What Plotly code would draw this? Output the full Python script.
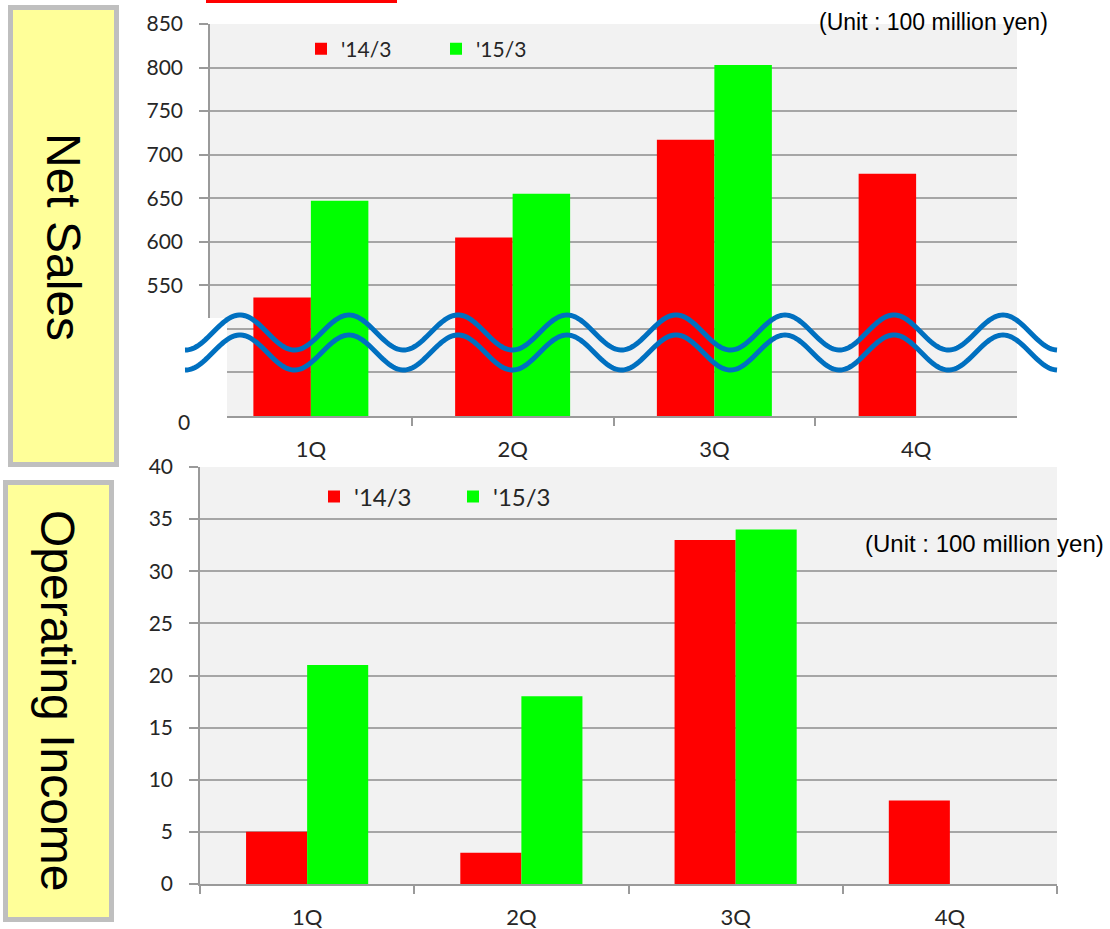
import numpy as np
import plotly.graph_objects as go

W, H = 1110, 929

# ---- data -------------------------------------------------------------
quarters = ["1Q", "2Q", "3Q", "4Q"]
series_names = ["'14/3", "'15/3"]

net_sales_14 = [536, 605, 717, 678]
net_sales_15 = [647, 655, 803, None]

op_income_14 = [5, 3, 33, 8]
op_income_15 = [21, 18, 34, None]

sales_tickvals = [400, 450, 500, 550, 600, 650, 700, 750, 800, 850]
sales_ticktext = ["", "", "", "550", "600", "650", "700", "750", "800", "850"]
income_tickvals = [0, 5, 10, 15, 20, 25, 30, 35, 40]

unit_label = "(Unit : 100 million yen)"

RED = "#FF0000"
GREEN = "#00FF00"
GRID = "#A6A6A6"
AXIS = "#9A9A9A"
TICKFONT = dict(family="Lato", size=21, color="#262626")
CATFONT = dict(family="Lato", size=22, color="#262626")


def fx(px):
    return px / W


def fy(py):
    return 1 - py / H


fig = go.Figure()

# Net sales (upper panel)
fig.add_trace(go.Bar(x=quarters, y=net_sales_14, name=series_names[0],
                     marker=dict(color=RED, line=dict(width=0)),
                     xaxis="x", yaxis="y", legend="legend"))
fig.add_trace(go.Bar(x=quarters, y=net_sales_15, name=series_names[1],
                     marker=dict(color=GREEN, line=dict(width=0)),
                     xaxis="x", yaxis="y", legend="legend"))

# Operating income (lower panel)
fig.add_trace(go.Bar(x=quarters, y=op_income_14, name=series_names[0],
                     marker=dict(color=RED, line=dict(width=0)),
                     xaxis="x2", yaxis="y2", legend="legend2"))
fig.add_trace(go.Bar(x=quarters, y=op_income_15, name=series_names[1],
                     marker=dict(color=GREEN, line=dict(width=0)),
                     xaxis="x2", yaxis="y2", legend="legend2"))

xcommon = dict(type="category", showline=True, linecolor=AXIS, linewidth=1.5,
               ticks="outside", tickson="boundaries", ticklen=8, tickcolor=AXIS,
               tickwidth=1.5, showgrid=False, tickfont=CATFONT,
               ticklabelstandoff=13, fixedrange=True, automargin=False)
ycommon = dict(showline=True, linecolor=AXIS, linewidth=1.5, ticks="outside",
               ticklen=9, tickcolor=AXIS, tickwidth=1.5, showgrid=True,
               gridcolor=GRID, gridwidth=1.5, zeroline=False, tickfont=TICKFONT,
               ticklabelstandoff=12, fixedrange=True, automargin=False)

# ---- decorations ------------------------------------------------------
shapes = []

# red tab peeking in at the top edge
shapes.append(dict(type="rect", xref="paper", yref="paper",
                   x0=fx(206), x1=fx(397), y0=fy(-10), y1=fy(3),
                   fillcolor=RED, line=dict(width=0), layer="above"))

# yellow side label boxes
for (x0, x1, y0, y1) in [(10.5, 116.5, 7.5, 464.5), (5.5, 111.5, 482.5, 919.5)]:
    shapes.append(dict(type="rect", xref="paper", yref="paper",
                       x0=fx(x0), x1=fx(x1), y0=fy(y1), y1=fy(y0),
                       fillcolor="#FFFF99", line=dict(color="#BFBFBF", width=5),
                       layer="above"))

# white patch hiding the axis below the break
shapes.append(dict(type="rect", xref="paper", yref="paper",
                   x0=fx(140), x1=fx(227), y0=fy(426), y1=fy(318),
                   fillcolor="white", line=dict(width=0), layer="above"))

# double wavy break marks
xs = np.arange(185, 1057.5, 2.0)
for offset in (0, 20):
    ys = 332.5 + offset - 17.5 * np.cos(2 * np.pi * (xs - 240) / 109.0)
    path = "M " + " L ".join(f"{fx(a):.5f},{fy(b):.5f}" for a, b in zip(xs, ys))
    shapes.append(dict(type="path", xref="paper", yref="paper", path=path,
                       line=dict(color="#0070C0", width=5), layer="above"))

annotations = [
    dict(text="0", x=fx(192), y=fy(421), xref="paper", yref="paper",
         xanchor="right", yanchor="middle", showarrow=False, font=TICKFONT),
    dict(text=unit_label, x=fx(1050), y=fy(22), xref="paper", yref="paper",
         xanchor="right", yanchor="middle", showarrow=False,
         font=dict(family="Liberation Sans", size=23, color="#000000")),
    dict(text=unit_label, x=fx(1106), y=fy(543), xref="paper", yref="paper",
         xanchor="right", yanchor="middle", showarrow=False,
         font=dict(family="Liberation Sans", size=24, color="#000000")),
    dict(text="Net Sales", x=fx(63), y=fy(237), xref="paper", yref="paper",
         xanchor="center", yanchor="middle", textangle=90, showarrow=False,
         font=dict(family="Liberation Sans", size=48, color="#000000")),
    dict(text="Operating Income", x=fx(58), y=fy(701), xref="paper", yref="paper",
         xanchor="center", yanchor="middle", textangle=90, showarrow=False,
         font=dict(family="Liberation Sans", size=48, color="#000000")),
]

fig.update_layout(
    width=W, height=H,
    margin=dict(l=0, r=0, t=0, b=0, pad=0, autoexpand=False),
    paper_bgcolor="white",
    plot_bgcolor="#F2F2F2",
    barmode="group",
    bargap=0.43,
    bargroupgap=0,
    xaxis=dict(domain=[fx(210), fx(1017)], anchor="y", **xcommon),
    yaxis=dict(domain=[fy(416), fy(24)], anchor="x", range=[400, 850],
               tickvals=sales_tickvals, ticktext=sales_ticktext, **ycommon),
    xaxis2=dict(domain=[fx(200), fx(1057)], anchor="y2", **xcommon),
    yaxis2=dict(domain=[fy(884), fy(467)], anchor="x2", range=[0, 40],
                tickvals=income_tickvals, **ycommon),
    legend=dict(orientation="h", x=fx(301), y=fy(49), xanchor="left",
                yanchor="middle", bgcolor="rgba(0,0,0,0)",
                font=dict(family="Lato", size=21, color="#262626"),
                entrywidth=90, entrywidthmode="pixels"),
    legend2=dict(orientation="h", x=fx(314), y=fy(497), xanchor="left",
                 yanchor="middle", bgcolor="rgba(0,0,0,0)",
                 font=dict(family="Lato", size=24, color="#262626"),
                 entrywidth=94, entrywidthmode="pixels"),
    shapes=shapes,
    annotations=annotations,
)

fig.write_html("out.html")
